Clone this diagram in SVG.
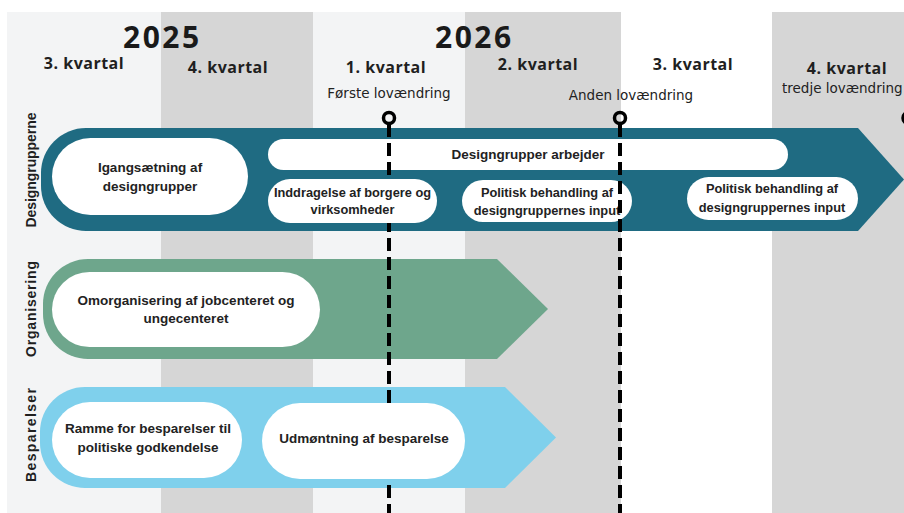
<svg xmlns="http://www.w3.org/2000/svg" width="904" height="513" viewBox="0 0 904 513">
<style>
.year{font-family:"Open Sans","Liberation Sans",sans-serif;font-weight:700;font-size:30px;letter-spacing:2.5px;fill:#1a1a1a}
.q{font-family:"Open Sans","Liberation Sans",sans-serif;font-weight:700;font-size:16px;letter-spacing:0.5px;fill:#1f1f1f;text-anchor:middle}
.law{font-family:"DejaVu Sans","Liberation Sans",sans-serif;font-size:13.5px;fill:#222;text-anchor:middle}
.lane{font-family:"Liberation Sans",Arial,sans-serif;font-weight:700;font-size:14px;fill:#1f1f1f;text-anchor:middle}
.t{font-family:"Liberation Sans",Arial,sans-serif;font-weight:700;font-size:13.5px;fill:#222;text-anchor:middle}
.ts{font-family:"Liberation Sans",Arial,sans-serif;font-weight:700;font-size:12.8px;fill:#222;text-anchor:middle}
.pill{fill:#ffffff}
.ms{fill:none;stroke:#000;stroke-width:3.5}
.dash{stroke:#000;stroke-width:4;stroke-dasharray:13 6;fill:none}
</style>
<rect x="0" y="0" width="904" height="513" fill="#ffffff"/>
<g id="columns">
<rect x="7" y="12" width="154" height="501" fill="#f3f4f5"/>
<rect x="161" y="12" width="152" height="501" fill="#d6d6d6"/>
<rect x="313" y="12" width="152" height="501" fill="#f3f4f5"/>
<rect x="465" y="12" width="156" height="501" fill="#d6d6d6"/>
<rect x="621" y="12" width="151" height="501" fill="#ffffff"/>
<rect x="772" y="12" width="132" height="501" fill="#d6d6d6"/>
</g>
<g id="headers">
<text class="year" x="123" y="48">2025</text>
<text class="year" x="435" y="48">2026</text>
<text class="q" x="84" y="69">3. kvartal</text>
<text class="q" x="228" y="73">4. kvartal</text>
<text class="q" x="386" y="73">1. kvartal</text>
<text class="q" x="538" y="70">2. kvartal</text>
<text class="q" x="693" y="70">3. kvartal</text>
<text class="q" x="847" y="74">4. kvartal</text>
<text class="law" x="389" y="98">Første lovændring</text>
<text class="law" x="631" y="100">Anden lovændring</text>
<text class="law" x="782" y="93" style="text-anchor:start">tredje lovændring</text>
</g>
<g id="lane-labels">
<text class="lane" transform="translate(36 170) rotate(-90)" textLength="115">Designgrupperne</text>
<text class="lane" transform="translate(36 309) rotate(-90)" textLength="96">Organisering</text>
<text class="lane" transform="translate(36 435) rotate(-90)" textLength="94">Besparelser</text>
</g>
<g id="band-designgrupperne">
<path d="M86 128 H858 L904 179.5 L858 231 H86 A45 45 0 0 1 41 186 V173 A45 45 0 0 1 86 128 Z" fill="#1f6b82"/>
</g>
<g id="band-organisering">
<path d="M88 259 H497 L548 309 L497 359 H88 A45 45 0 0 1 43 314 V304 A45 45 0 0 1 88 259 Z" fill="#6ea68c"/>
</g>
<g id="band-besparelser">
<path d="M85 387 H505 L556 437.5 L505 488 H85 A45 45 0 0 1 40 443 V432 A45 45 0 0 1 85 387 Z" fill="#7fd0ec"/>
</g>
<g id="node-igangsaetning">
<rect class="pill" x="52" y="138" width="196" height="77" rx="38.5"/>
<text class="t" x="150" y="172">Igangsætning af</text>
<text class="t" x="150" y="191">designgrupper</text>
</g>
<g id="node-politisk-1">
<rect class="pill" x="462" y="180" width="170" height="42" rx="21"/>
<text class="ts" x="547" y="197">Politisk behandling af</text>
<text class="ts" x="547" y="215">designgruppernes input</text>
</g>
<g id="node-politisk-2">
<rect class="pill" x="687" y="177" width="171" height="43" rx="21.5"/>
<text class="ts" x="772" y="193">Politisk behandling af</text>
<text class="ts" x="772" y="212">designgruppernes input</text>
</g>
<g id="node-omorganisering">
<rect class="pill" x="52" y="272" width="268" height="75" rx="37.5"/>
<text class="t" x="186" y="305">Omorganisering af jobcenteret og</text>
<text class="t" x="186" y="323">ungecenteret</text>
</g>
<g id="node-ramme">
<rect class="pill" x="52" y="402" width="190" height="76" rx="38"/>
<text class="t" x="148" y="433">Ramme for besparelser til</text>
<text class="t" x="148" y="452">politiske godkendelse</text>
</g>
<g id="node-arbejder">
<rect class="pill" x="268" y="139" width="520" height="31" rx="15.5"/>
<text class="t" x="528" y="159">Designgrupper arbejder</text>
</g>
<g id="connectors">
<line class="dash" x1="389" y1="124" x2="389" y2="513"/>
<line class="dash" x1="620" y1="124" x2="620" y2="513"/>
<circle class="ms" cx="389" cy="118" r="5.5"/>
<circle class="ms" cx="620" cy="118" r="5.5"/>
<circle class="ms" cx="908.5" cy="118" r="5.5"/>
</g>
<g id="node-inddragelse">
<rect class="pill" x="268" y="179" width="169" height="44" rx="22"/>
<text class="ts" x="352.5" y="197">Inddragelse af borgere og</text>
<text class="ts" x="352.5" y="214">virksomheder</text>
</g>
<g id="node-udmoentning">
<rect class="pill" x="262" y="403" width="203" height="76" rx="38"/>
<text class="t" x="364" y="443">Udmøntning af besparelse</text>
</g>
</svg>
